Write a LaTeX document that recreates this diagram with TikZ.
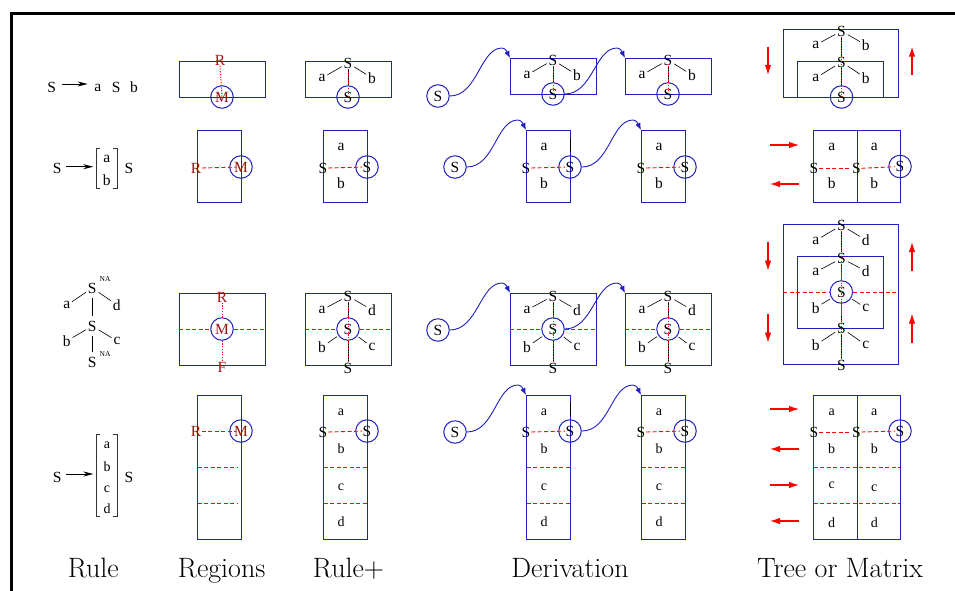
\documentclass[tikz,border=0pt]{standalone}
\usepackage{fontspec}
\newfontfamily\lbf{Liberation Serif}
\usetikzlibrary{arrows.meta,calc}
\definecolor{blu}{rgb}{0.12,0.12,0.75}
\definecolor{dred}{rgb}{0.62,0.08,0.08}
\definecolor{rdc}{rgb}{1,0,0}
\pgfdeclarelayer{bg}
\pgfsetlayers{bg,main}

\newcommand\boxat[2]{\begin{pgfonlayer}{bg}\draw[bxl] (#1) rectangle (#2);\end{pgfonlayer}}
\newcommand\sepline[2]{\begin{pgfonlayer}{bg}\draw[rdash] (#1) -- (#2);\end{pgfonlayer}}

\newcommand\rowA[3]{%
  \begin{scope}[shift={(#2,#3)}]
    \coordinate (#1nw) at (-43,0); \coordinate (#1se) at (43,36);
    \boxat{#1nw}{#1se}
    \node[lb] (#1s) at (0,2) {S};
    \node[lb] (#1a) at (-26,17) {a};
    \node[lb] (#1b) at (24,17) {b};
    \node[circ] (#1c) at (0,36) {S};
    \draw[edge] (#1s) -- (#1a);
    \draw[edge] (#1s) -- (#1b);
    \draw[stem] (#1s.south) -- (#1c.north);
    \draw[rdot] (#1s.south) -- (#1c.center);
  \end{scope}}
\newcommand\rowB[3]{%
  \begin{scope}[shift={(#2,#3)}]
    \coordinate (#1nw) at (0,0); \coordinate (#1se) at (44,72);
    \boxat{#1nw}{#1se}
    \node[lb] (#1a) at (18,17) {a};
    \node[lb] (#1b) at (18,53) {b};
    \node[lb] (#1l) at (0,38) {S};
    \node[circ] (#1c) at (44,37) {S};
    \draw[rdash, shorten >=5pt] (#1l.east) -- (#1c.center);
  \end{scope}}
\newcommand\rowC[3]{%
  \begin{scope}[shift={(#2,#3)}]
    \coordinate (#1nw) at (-43,0); \coordinate (#1se) at (43,72);
    \coordinate (#1w) at (-43,36); \coordinate (#1e) at (43,36);
    \boxat{#1nw}{#1se}
    \node[lb] (#1s) at (0,3) {S};
    \node[lb] (#1a) at (-26,17) {a};
    \node[lb] (#1d) at (24,17) {d};
    \node[circ] (#1c) at (0,36) {S};
    \node[lb] (#1b) at (-26,54) {b};
    \node[lb] (#1cc) at (24,54) {c};
    \node[lb] (#1t) at (0,75) {S};
    \draw[edge] (#1s) -- (#1a);
    \draw[edge] (#1s) -- (#1d);
    \draw[edge] (#1c) -- (#1b);
    \draw[edge] (#1c) -- (#1cc);
    \draw[stem] (#1s.south) -- (#1c.north);
    \draw[stem] (#1c.south) -- (#1t.north);
    \draw[rdot] (#1s.south) -- (#1t.north);
    \sepline{#1w}{#1c.west}
    \sepline{#1c.east}{#1e}
  \end{scope}}
\newcommand\rowD[3]{%
  \begin{scope}[shift={(#2,#3)}]
    \coordinate (#1nw) at (0,0); \coordinate (#1se) at (44,144);
    \coordinate (#1p) at (0.5,72); \coordinate (#1q) at (43.5,72);
    \coordinate (#1u) at (0.5,108); \coordinate (#1v) at (43.5,108);
    \boxat{#1nw}{#1se}
    \node[lbs] (#1a) at (18,17) {a};
    \node[lb] (#1l) at (0,37) {S};
    \node[circ] (#1c) at (44,36) {S};
    \node[lbs] (#1b) at (18,54) {b};
    \node[lbs] (#1cc) at (18,92) {c};
    \node[lbs] (#1d) at (18,127) {d};
    \draw[rdash, shorten >=5pt] (#1l.east) -- (#1c.center);
    \sepline{#1p}{#1q}
    \sepline{#1u}{#1v}
  \end{scope}}
\newcommand\dcurve[2]{%
  \draw[dv] (#1.east) .. controls +(28,0) and +(-22,0) .. ($(#2)+(-8,-10)$)
     .. controls +(4,0) and +(-2,-4) .. (#2);}

\begin{document}
\begin{tikzpicture}[x=1pt,y=-1pt,
  lb/.style={font=\lbf\fontsize{15.5}{16}\selectfont, inner sep=0.5pt},
  lbs/.style={font=\lbf\fontsize{14}{15}\selectfont, inner sep=0.5pt},
  na/.style={font=\lbf\fontsize{7.5}{8}\selectfont, inner sep=0pt},
  rl/.style={lb, text=dred},
  circ/.style={circle, draw=blu, line width=1pt, minimum size=22.5pt, inner sep=0pt,
    font=\lbf\fontsize{15.5}{16}\selectfont},
  bxl/.style={draw=blu, line width=1pt},
  edge/.style={black, line width=0.6pt, shorten <=1.5pt, shorten >=1.5pt},
  rdash/.style={draw=rdc, line width=0.9pt, dash pattern=on 4pt off 2.5pt},
  rdot/.style={draw=rdc, line width=1pt, dash pattern=on 1.2pt off 1.5pt},
  stem/.style={black, line width=0.6pt},
  rarr/.style={draw=rdc, fill=rdc, line width=1.1pt, -{Latex[length=10pt,width=6.5pt]}},
  dv/.style={blu, line width=0.9pt, -{Latex[length=7pt,width=5.5pt]}},
  captxt/.style={font=\fontsize{28}{30}\selectfont, anchor=base, inner sep=0pt},
  ruarr/.style={black, line width=0.8pt, -{Stealth[length=10pt,width=5pt]}},
  brk/.style={black!80, line width=0.8pt},
]
\useasboundingbox (0,0) rectangle (955,590);
\draw[line width=3pt] (11.7,591) -- (11.7,13.3) -- (957,13.3);

% ---------------- Rule column ----------------
\node[lb] (r1s) at (51.7,87.5) {S};
\node[lb] (r1a) at (97.7,88) {a};
\node[lb] (r1m) at (116.3,87.5) {S};
\node[lb] (r1b) at (134,87.5) {b};
\draw[ruarr] ([xshift=5pt,yshift=3.5pt]r1s.east) -- ([xshift=-6pt,yshift=4pt]r1a.west);

\node[lb] (r2s) at (57.3,168.7) {S};
\node[lb] (r2a) at (106.7,158.7) {a};
\node[lb] (r2b) at (106.7,180.3) {b};
\node[lb] (r2t) at (129,168.7) {S};
\draw[brk] (100,148) -- (96,148) -- (96,188) -- (100,188);
\draw[brk] (113,148) -- (117,148) -- (117,188) -- (113,188);
\coordinate (r2e) at (93.3,166.7);
\draw[ruarr] ([xshift=4pt,yshift=2pt]r2s.east) -- (r2e);

\node[lb] (r3s1) at (92.3,288) {S};
\node[na] (r3n1) at (105,279) {NA};
\node[lb] (r3a) at (66.7,305.3) {a};
\node[lb] (r3d) at (116.7,304.7) {d};
\node[lb] (r3s2) at (92.3,326) {S};
\node[lb] (r3b) at (66.7,341) {b};
\node[lb] (r3c) at (117,341) {c};
\node[lb] (r3s3) at (92.3,362) {S};
\node[na] (r3n2) at (105,354) {NA};
\draw[edge] (r3s1) -- (r3a);
\draw[edge] (r3s1) -- (r3d);
\draw[edge] (r3s2) -- (r3b);
\draw[edge] (r3s2) -- (r3c);
\draw[edge, shorten <=4pt, shorten >=4pt] (r3s1) -- (r3s2);
\draw[edge, shorten <=4pt, shorten >=4pt] (r3s2) -- (r3s3);

\node[lb] (r4s) at (57.3,477) {S};
\node[lbs] (r4a) at (107,445) {a};
\node[lbs] (r4b) at (107,466.7) {b};
\node[lbs] (r4c) at (107,489) {c};
\node[lbs] (r4d) at (107,509) {d};
\node[lb] (r4t) at (129,477) {S};
\draw[brk] (100,434.3) -- (96,434.3) -- (96,516.7) -- (100,516.7);
\draw[brk] (113,434.3) -- (117,434.3) -- (117,516.7) -- (113,516.7);
\coordinate (r4e) at (93.3,474);
\draw[ruarr] ([xshift=4pt,yshift=3pt]r4s.east) -- (r4e);

% ---------------- Regions column ----------------
\coordinate (g1nw) at (179,61); \coordinate (g1se) at (265,97);
\boxat{g1nw}{g1se}
\node[rl] (g1r) at (220,60) {R};
\node[circ, text=dred] (g1m) at (222,97) {M};
\draw[rdot] (g1r.south) -- (g1m.center);

\coordinate (g2nw) at (197,130); \coordinate (g2se) at (241,202);
\boxat{g2nw}{g2se}
\node[rl] (g2r) at (196,168) {R};
\node[circ, text=dred] (g2m) at (241,167) {M};
\draw[rdash, shorten >=5pt] (g2r.east) -- (g2m.center);

\coordinate (g3nw) at (179,293); \coordinate (g3se) at (265,365);
\coordinate (g3w) at (179,329); \coordinate (g3e) at (265,329);
\boxat{g3nw}{g3se}
\node[rl] (g3r) at (222,297) {R};
\node[circ, text=dred] (g3m) at (222,329) {M};
\node[rl] (g3f) at (222,367) {F};
\draw[rdot] (g3r.south) -- (g3m.north);
\draw[rdot] (g3m.south) -- (g3f.north);
\sepline{g3w}{g3m.west}
\sepline{g3m.east}{g3e}

\coordinate (g4nw) at (197,395); \coordinate (g4se) at (241,539);
\coordinate (g4p) at (197.5,467); \coordinate (g4q) at (237,467);
\coordinate (g4u) at (197.5,503); \coordinate (g4v) at (237,503);
\boxat{g4nw}{g4se}
\node[rl] (g4r) at (196,431) {R};
\node[circ, text=dred] (g4m) at (241,431) {M};
\draw[rdash, shorten >=5pt] (g4r.east) -- (g4m.center);
\sepline{g4p}{g4q}
\sepline{g4u}{g4v}

% ---------------- Rule+ column ----------------
\rowA{p1}{348}{61}
\rowB{p2}{323}{130}
\rowC{p3}{348}{293}
\rowD{p4}{323}{395}

% ---------------- Derivation column ----------------
\node[circ] (d1s) at (438,96) {S};
\rowA{d1a}{553}{58}
\rowA{d1b}{668}{58}
\dcurve{d1s}{d1anw}
\dcurve{d1ac}{d1bnw}

\node[circ] (d2s) at (455,167) {S};
\rowB{d2a}{526}{130}
\rowB{d2b}{641}{130}
\draw[stem] ([yshift=3pt]d2ac.north) -- ++(0,-13);
\dcurve{d2s}{d2anw}
\dcurve{d2ac}{d2bnw}

\node[circ] (d3s) at (438,330) {S};
\rowC{d3a}{553}{293}
\rowC{d3b}{668}{293}
\dcurve{d3s}{d3anw}
\dcurve{d3ac}{d3bnw}

\node[circ] (d4s) at (455,432) {S};
\rowD{d4a}{526}{395}
\rowD{d4b}{641}{395}
\draw[stem] ([yshift=3pt]d4ac.north) -- ++(0,-13);
\dcurve{d4s}{d4anw}
\dcurve{d4ac}{d4bnw}

% ---------------- Tree or Matrix column ----------------
% row 1
\coordinate (t1onw) at (783,29); \coordinate (t1ose) at (898,97);
\coordinate (t1inw) at (797,61); \coordinate (t1ise) at (883,97);
\boxat{t1onw}{t1ose}
\boxat{t1inw}{t1ise}
\node[lb] (t1s1) at (841.5,31) {S};
\node[lb] (t1a1) at (815.7,45) {a};
\node[lb] (t1b1) at (865.7,45) {b};
\node[lb] (t1s2) at (841.5,62) {S};
\node[lb] (t1a2) at (815.7,78) {a};
\node[lb] (t1b2) at (865.7,78) {b};
\node[circ] (t1c) at (841.5,97) {S};
\draw[edge] (t1s1) -- (t1a1);
\draw[edge] (t1s1) -- (t1b1);
\draw[edge] (t1s2) -- (t1a2);
\draw[edge] (t1s2) -- (t1b2);
\draw[stem] (t1s1.south) -- (t1s2.north);
\draw[stem] (t1s2.south) -- (t1c.north);
\draw[rdot] (t1s1.south) -- (t1c.center);
\coordinate (t1d0) at (768,46.7); \coordinate (t1d1) at (768,75);
\coordinate (t1u0) at (912,75); \coordinate (t1u1) at (912,46.7);
\draw[rarr] (t1d0) -- (t1d1);
\draw[rarr] (t1u0) -- (t1u1);

% row 2
\coordinate (t2nw) at (813,130); \coordinate (t2se) at (857,202);
\coordinate (t2bnw) at (857,130); \coordinate (t2bse) at (900,202);
\boxat{t2nw}{t2se}
\boxat{t2bnw}{t2bse}
\node[lb] (t2a1) at (831.7,146.7) {a};
\node[lb] (t2a2) at (874.3,146.7) {a};
\node[lb] (t2b1) at (831.7,183.3) {b};
\node[lb] (t2b2) at (874.3,183.3) {b};
\node[lb] (t2s1) at (814,168.3) {S};
\node[lb] (t2s2) at (856.3,168.3) {S};
\node[circ] (t2c) at (900,166.5) {S};
\draw[rdash] (t2s1.east) -- (t2s2.west);
\draw[rdash, shorten >=5pt] (t2s2.east) -- (t2c.center);
\coordinate (t2r0) at (770,145); \coordinate (t2r1) at (799,145);
\coordinate (t2l0) at (799,184); \coordinate (t2l1) at (770,184);
\draw[rarr] (t2r0) -- (t2r1);
\draw[rarr] (t2l0) -- (t2l1);

% row 3
\coordinate (t3onw) at (783,224); \coordinate (t3ose) at (898,364);
\coordinate (t3inw) at (797,256); \coordinate (t3ise) at (883,328);
\coordinate (t3w) at (783,292); \coordinate (t3e) at (897,292);
\boxat{t3onw}{t3ose}
\boxat{t3inw}{t3ise}
\node[lb] (t3s1) at (841.5,225.3) {S};
\node[lb] (t3a1) at (815.7,240.5) {a};
\node[lb] (t3d1) at (865.7,240) {d};
\node[lb] (t3s2) at (841.5,258.3) {S};
\node[lb] (t3a2) at (815.7,272) {a};
\node[lb] (t3d2) at (865.7,271) {d};
\node[circ] (t3c) at (841.3,292) {S};
\node[lb] (t3b3) at (815.7,307.8) {b};
\node[lb] (t3c3) at (865.7,308) {c};
\node[lb] (t3s3) at (841.5,328) {S};
\node[lb] (t3b4) at (815.7,345) {b};
\node[lb] (t3c4) at (865.7,345) {c};
\node[lb] (t3s4) at (841.5,365) {S};
\draw[edge] (t3s1) -- (t3a1);
\draw[edge] (t3s1) -- (t3d1);
\draw[edge] (t3s2) -- (t3a2);
\draw[edge] (t3s2) -- (t3d2);
\draw[edge] (t3c) -- (t3b3);
\draw[edge] (t3c) -- (t3c3);
\draw[edge] (t3s3) -- (t3b4);
\draw[edge] (t3s3) -- (t3c4);
\draw[stem] (t3s1.south) -- (t3s2.north);
\draw[stem] (t3s2.south) -- (t3c.north);
\draw[stem] (t3c.south) -- (t3s3.north);
\draw[stem] (t3s3.south) -- (t3s4.north);
\draw[rdot] (t3s1.south) -- (t3s4.north);
\sepline{t3w}{t3c.west}
\sepline{t3c.east}{t3e}
\coordinate (t3d0) at (768,241.7); \coordinate (t3d1) at (768,270.7);
\coordinate (t3d2) at (768,314); \coordinate (t3d3) at (768,342.7);
\coordinate (t3u0) at (912,270.7); \coordinate (t3u1) at (912,242);
\coordinate (t3u2) at (912,342.7); \coordinate (t3u3) at (912,313.5);
\draw[rarr] (t3d0) -- (t3d1);
\draw[rarr] (t3d2) -- (t3d3);
\draw[rarr] (t3u0) -- (t3u1);
\draw[rarr] (t3u2) -- (t3u3);

% row 4
\coordinate (t4nw) at (813,395); \coordinate (t4se) at (857,539);
\coordinate (t4bnw) at (857,395); \coordinate (t4bse) at (900,539);
\coordinate (t4p) at (813.5,467); \coordinate (t4q) at (899.5,467);
\coordinate (t4u) at (813.5,503); \coordinate (t4v) at (899.5,503);
\boxat{t4nw}{t4se}
\boxat{t4bnw}{t4bse}
\node[lbs] (t4a1) at (831.7,412.5) {a};
\node[lbs] (t4a2) at (874.3,412.5) {a};
\node[lb] (t4s1) at (814,432) {S};
\node[lb] (t4s2) at (856.3,432) {S};
\node[circ] (t4c) at (900,431) {S};
\node[lbs] (t4b1) at (831.7,448.7) {b};
\node[lbs] (t4b2) at (874.3,448.7) {b};
\node[lbs] (t4c1) at (831.7,485.5) {c};
\node[lbs] (t4c2) at (874.3,488) {c};
\node[lbs] (t4d1) at (831.7,522.5) {d};
\node[lbs] (t4d2) at (874.3,522.5) {d};
\draw[rdash] (t4s1.east) -- (t4s2.west);
\draw[rdash, shorten >=5pt] (t4s2.east) -- (t4c.center);
\sepline{t4p}{t4q}
\sepline{t4u}{t4v}
\coordinate (t4a0) at (770,409); \coordinate (t4a9) at (799,409);
\coordinate (t4b0) at (799,449); \coordinate (t4b9) at (770,449);
\coordinate (t4c0) at (770,485); \coordinate (t4c9) at (799,485);
\coordinate (t4e0) at (799,521); \coordinate (t4e9) at (770,521);
\draw[rarr] (t4a0) -- (t4a9);
\draw[rarr] (t4b0) -- (t4b9);
\draw[rarr] (t4c0) -- (t4c9);
\draw[rarr] (t4e0) -- (t4e9);

% ---------------- captions ----------------
\node[captxt] (c1) at (93.3,577) {Rule};
\node[captxt] (c2) at (221.7,577) {Regions};
\node[captxt] (c3) at (348.5,577) {Rule+};
\node[captxt] (c4) at (570,577) {Derivation};
\node[captxt] (c5) at (840,577) {Tree or Matrix};
\end{tikzpicture}
\end{document}
